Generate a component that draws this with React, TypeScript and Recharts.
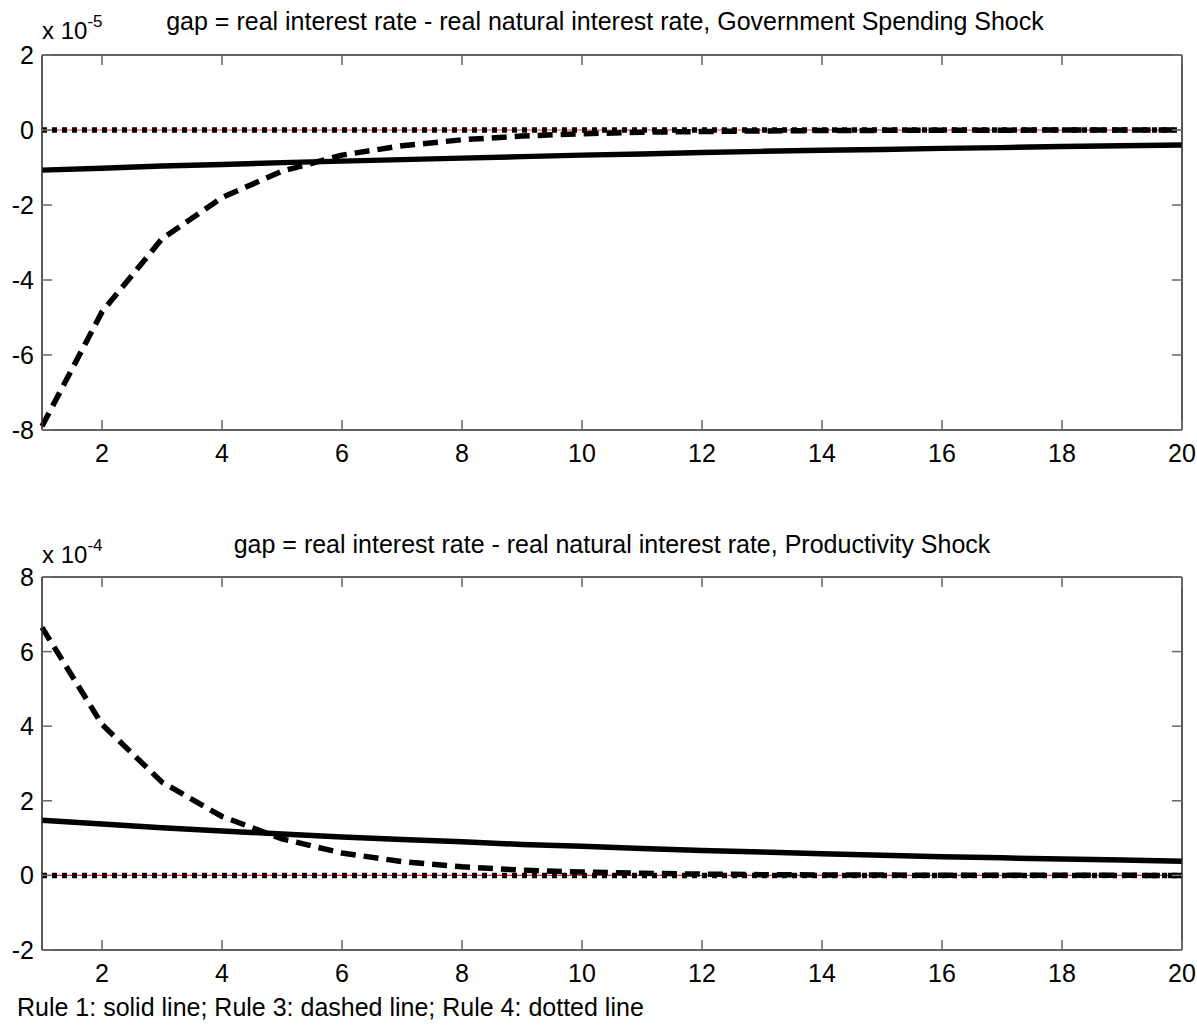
import React from 'react';
import { LineChart, Line, XAxis, YAxis } from 'recharts';

// periods 1..20
const periods = [1, 2, 3, 4, 5, 6, 7, 8, 9, 10, 11, 12, 13, 14, 15, 16, 17, 18, 19, 20];

// Government spending shock (x 10^-5)
const govRule1 = [-1.07, -1.02, -0.96, -0.92, -0.87, -0.83, -0.79, -0.75, -0.71, -0.67, -0.64, -0.6, -0.57, -0.54, -0.52, -0.49, -0.47, -0.44, -0.42, -0.4];
const govRule3 = [-7.9, -4.85, -2.9, -1.8, -1.1, -0.67, -0.42, -0.26, -0.16, -0.1, -0.06, -0.04, -0.025, -0.015, -0.01, -0.006, -0.004, -0.002, -0.001, 0];
const govRule4 = [0, 0, 0, 0, 0, 0, 0, 0, 0, 0, 0, 0, 0, 0, 0, 0, 0, 0, 0, 0];

// Productivity shock (x 10^-4)
const prodRule1 = [1.48, 1.38, 1.28, 1.19, 1.11, 1.03, 0.96, 0.9, 0.83, 0.78, 0.72, 0.67, 0.63, 0.58, 0.54, 0.5, 0.47, 0.44, 0.41, 0.38];
const prodRule3 = [6.65, 4.05, 2.5, 1.58, 0.98, 0.6, 0.37, 0.23, 0.14, 0.09, 0.055, 0.035, 0.02, 0.012, 0.008, 0.005, 0.003, 0.002, 0.001, 0];
const prodRule4 = [0, 0, 0, 0, 0, 0, 0, 0, 0, 0, 0, 0, 0, 0, 0, 0, 0, 0, 0, 0];

const xTicks = [2, 4, 6, 8, 10, 12, 14, 16, 18, 20];
const govYTicks = [-8, -6, -4, -2, 0, 2];
const prodYTicks = [-2, 0, 2, 4, 6, 8];

const topTitle = 'gap = real interest rate - real natural interest rate, Government Spending Shock';
const bottomTitle = 'gap = real interest rate - real natural interest rate, Productivity Shock';
const footer = 'Rule 1: solid line; Rule 3: dashed line; Rule 4: dotted line';

const FONT = '"Liberation Sans", Arial, Helvetica, sans-serif';
const TICK_COLOR = '#6f6f6f';
const AXIS_COLOR = '#2e2e2e';
const FS = 25;
const LW = 5.5;

const build = (r1: number[], r3: number[], r4: number[]) =>
  periods.map((p, i) => ({ x: p, r1: r1[i], r3: r3[i], r4: r4[i] }));

const BottomTick = (props: any) => {
  const { x, y, payload } = props;
  return (
    <g>
      <line x1={x} y1={y} x2={x} y2={y - 10} stroke={TICK_COLOR} strokeWidth={1.6} />
      <text x={x} y={y + 32} textAnchor="middle" fontSize={FS} fontFamily={FONT} fill="#000">
        {payload.value}
      </text>
    </g>
  );
};

const TopTick = (props: any) => {
  const { x, y } = props;
  return <line x1={x} y1={y} x2={x} y2={y + 10} stroke={TICK_COLOR} strokeWidth={1.6} />;
};

const LeftTick = (props: any) => {
  const { x, y, payload } = props;
  return (
    <g>
      <line x1={x} y1={y} x2={x + 10} y2={y} stroke={TICK_COLOR} strokeWidth={1.6} />
      <text x={x - 8} y={y + 9} textAnchor="end" fontSize={FS} fontFamily={FONT} fill="#000">
        {payload.value}
      </text>
    </g>
  );
};

const RightTick = (props: any) => {
  const { x, y } = props;
  return <line x1={x} y1={y} x2={x - 10} y2={y} stroke={TICK_COLOR} strokeWidth={1.6} />;
};

type PanelProps = {
  data: any[];
  yTicks: number[];
  top: number;
  height: number;
};

const Panel = ({ data, yTicks, top, height }: PanelProps) => {
  const domain: [number, number] = [yTicks[0], yTicks[yTicks.length - 1]];
  return (
    <div style={{ position: 'absolute', left: 0, top, width: 1197, height }}>
      <LineChart width={1197} height={height} data={data} margin={{ top: 54, right: 14, bottom: 0, left: 0 }}>
        <XAxis
          xAxisId="b"
          dataKey="x"
          type="number"
          domain={[1, 20]}
          ticks={xTicks}
          interval={0}
          height={50}
          tickSize={0}
          tickMargin={0}
          tickLine={false}
          tick={<BottomTick />}
          axisLine={{ stroke: AXIS_COLOR, strokeWidth: 1.6 }}
        />
        <XAxis
          xAxisId="t"
          orientation="top"
          dataKey="x"
          type="number"
          domain={[1, 20]}
          ticks={xTicks}
          interval={0}
          height={1}
          tickSize={0}
          tickMargin={0}
          tickLine={false}
          tick={<TopTick />}
          axisLine={{ stroke: AXIS_COLOR, strokeWidth: 1.6 }}
        />
        <YAxis
          yAxisId="l"
          type="number"
          domain={domain}
          ticks={yTicks}
          interval={0}
          width={42}
          tickSize={0}
          tickMargin={0}
          tickLine={false}
          tick={<LeftTick />}
          allowDataOverflow
          axisLine={{ stroke: AXIS_COLOR, strokeWidth: 1.6 }}
        />
        <YAxis
          yAxisId="r"
          orientation="right"
          type="number"
          domain={domain}
          ticks={yTicks}
          interval={0}
          width={1}
          tickSize={0}
          tickMargin={0}
          tickLine={false}
          tick={<RightTick />}
          allowDataOverflow
          axisLine={{ stroke: AXIS_COLOR, strokeWidth: 1.6 }}
        />
        <Line xAxisId="b" yAxisId="l" type="linear" dataKey="r4" stroke="#ff2020" strokeWidth={1.2} dot={false} isAnimationActive={false} />
        <Line xAxisId="b" yAxisId="l" type="linear" dataKey="r4" stroke="#000" strokeWidth={LW} strokeDasharray="5 5" dot={false} isAnimationActive={false} />
        <Line xAxisId="b" yAxisId="l" type="linear" dataKey="r1" stroke="#000" strokeWidth={LW} dot={false} isAnimationActive={false} />
        <Line xAxisId="b" yAxisId="l" type="linear" dataKey="r3" stroke="#000" strokeWidth={LW} strokeDasharray="15 8" dot={false} isAnimationActive={false} />
      </LineChart>
    </div>
  );
};

export default function App() {
  const gov = build(govRule1, govRule3, govRule4);
  const prod = build(prodRule1, prodRule3, prodRule4);
  return (
    <div style={{ position: 'absolute', left: 0, top: 0, width: 1197, height: 1027, background: '#fff', fontFamily: FONT }}>
      <Panel data={gov} yTicks={govYTicks} top={0} height={480} />
      <Panel data={prod} yTicks={prodYTicks} top={522} height={478} />
      <svg width={1197} height={1027} style={{ position: 'absolute', left: 0, top: 0, pointerEvents: 'none' }}>
        <text x={605} y={30} textAnchor="middle" fontSize={FS} fontFamily={FONT} fill="#000">{topTitle}</text>
        <text x={42} y={39} fontSize={24} fontFamily={FONT} fill="#000">
          x 10<tspan dy={-12} fontSize={17}>-5</tspan>
        </text>
        <text x={612} y={553} textAnchor="middle" fontSize={FS} fontFamily={FONT} fill="#000">{bottomTitle}</text>
        <text x={42} y={563} fontSize={24} fontFamily={FONT} fill="#000">
          x 10<tspan dy={-12} fontSize={17}>-4</tspan>
        </text>
        <text x={17} y={1016} fontSize={25} fontFamily={FONT} fill="#000">{footer}</text>
      </svg>
    </div>
  );
}
